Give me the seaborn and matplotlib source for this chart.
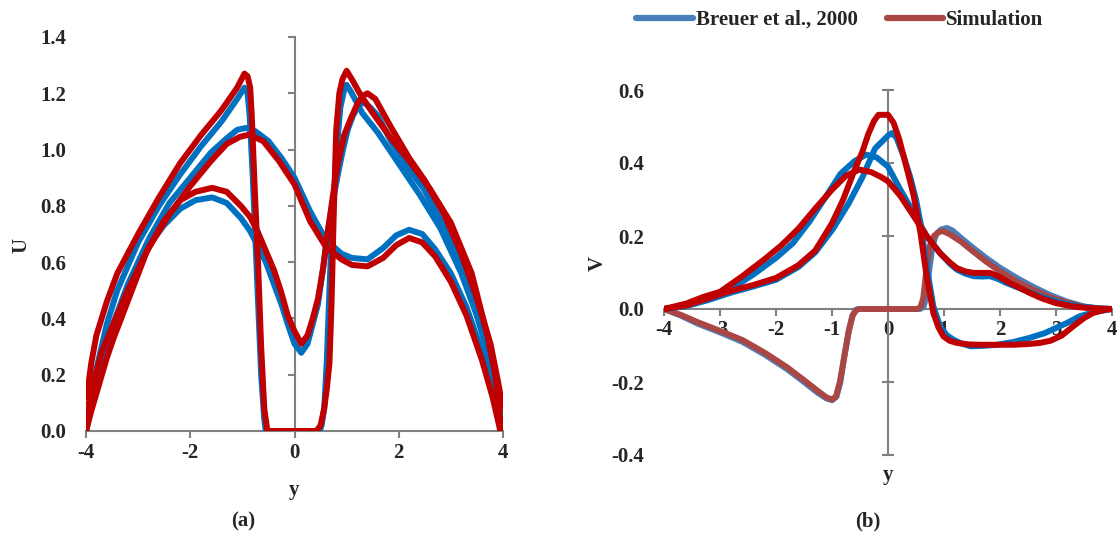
import matplotlib
matplotlib.use("Agg")
import matplotlib.pyplot as plt
import seaborn as sns
import pandas as pd
from matplotlib.ticker import FormatStrFormatter
from matplotlib.lines import Line2D

# ---------------- data: panel (a)  U vs y ----------------
a_y_A_breuer = [-4.0, -3.9, -3.8, -3.6, -3.4, -3.0, -2.6, -2.2, -1.8, -1.4, -1.1, -0.96, -0.9, -0.86, -0.8, -0.72,
                -0.64, -0.58, -0.55, 0.48, 0.52, 0.57, 0.62, 0.67, 0.72, 0.8, 0.88, 0.95, 1.0, 1.1, 1.3, 1.6, 2.0,
                2.4, 2.8, 3.2, 3.5, 3.75, 3.9, 4.0]
a_U_A_breuer = [0, 0.12, 0.22, 0.38, 0.5, 0.67, 0.8, 0.91, 1.01, 1.1, 1.18, 1.22, 1.2, 1.12, 0.9, 0.55,
                0.2, 0.04, 0, 0, 0.02, 0.08, 0.25, 0.5, 0.72, 0.98, 1.15, 1.21, 1.23, 1.2, 1.13, 1.06, 0.95,
                0.84, 0.72, 0.56, 0.41, 0.25, 0.12, 0]

a_y_A_sim = [-4.0, -3.95, -3.9, -3.8, -3.6, -3.4, -3.0, -2.6, -2.2, -1.8, -1.4, -1.1, -0.96, -0.9, -0.85, -0.82,
             -0.76, -0.7, -0.64, -0.58, -0.52, 0.42, 0.5, 0.57, 0.62, 0.67, 0.71, 0.75, 0.8, 0.86, 0.92, 1.0, 1.1,
             1.25, 1.5, 1.85, 2.2, 2.6, 3.0, 3.4, 3.7, 3.85, 3.97]
a_U_A_sim = [0.12, 0.17, 0.24, 0.34, 0.46, 0.56, 0.7, 0.83, 0.95, 1.05, 1.14, 1.22, 1.27, 1.26, 1.22, 1.12,
             0.85, 0.6, 0.3, 0.08, 0, 0, 0.02, 0.08, 0.15, 0.24, 0.45, 0.75, 1.07, 1.2, 1.25, 1.28, 1.25,
             1.2, 1.13, 1.04, 0.96, 0.86, 0.74, 0.56, 0.34, 0.2, 0]

a_y_B_breuer = [-4.0, -3.85, -3.7, -3.5, -3.2, -2.8, -2.4, -2.0, -1.6, -1.3, -1.1, -0.93, -0.75, -0.5, -0.25, 0.0,
                0.3, 0.6, 0.9, 1.1, 1.4, 1.7, 1.95, 2.2, 2.45, 2.7, 3.0, 3.3, 3.6, 3.8, 4.0]
a_U_B_breuer = [0, 0.13, 0.25, 0.37, 0.52, 0.68, 0.81, 0.9, 0.99, 1.04, 1.07, 1.077, 1.065, 1.03, 0.97, 0.9,
                0.78, 0.68, 0.63, 0.615, 0.61, 0.65, 0.695, 0.715, 0.70, 0.645, 0.56, 0.44, 0.28, 0.16, 0]

a_y_B_sim = [-4.0, -3.9, -3.7, -3.5, -3.2, -2.8, -2.4, -2.0, -1.6, -1.3, -1.05, -0.87, -0.6, -0.3, 0.0, 0.3,
             0.6, 0.9, 1.1, 1.4, 1.7, 1.95, 2.2, 2.45, 2.7, 3.0, 3.3, 3.6, 3.8, 3.95]
a_U_B_sim = [0.05, 0.14, 0.28, 0.37, 0.5, 0.65, 0.77, 0.87, 0.96, 1.02, 1.045, 1.053, 1.03, 0.96, 0.876, 0.745,
             0.655, 0.61, 0.59, 0.585, 0.615, 0.66, 0.686, 0.67, 0.62, 0.53, 0.41, 0.25, 0.12, 0]

a_y_C_breuer = [-4.0, -3.9, -3.79, -3.6, -3.47, -3.15, -2.83, -2.51, -2.19, -1.9, -1.58, -1.3, -1.03, -0.85, -0.71,
                -0.55, -0.39, -0.25, -0.13, 0.0, 0.13, 0.25, 0.35, 0.45, 0.55, 0.64, 0.75, 0.83, 0.93, 1.02, 1.12,
                1.21, 1.31, 1.45, 1.6, 1.85, 2.2, 2.48, 2.8, 3.12, 3.45, 3.76, 3.9, 4.0]
a_U_C_breuer = [0, 0.08, 0.18, 0.3, 0.38, 0.52, 0.65, 0.73, 0.79, 0.82, 0.83, 0.81, 0.757, 0.71, 0.66,
                0.6, 0.52, 0.45, 0.38, 0.31, 0.278, 0.31, 0.38, 0.45, 0.58, 0.71, 0.83, 0.91, 1.0, 1.07, 1.12,
                1.15, 1.17, 1.15, 1.12, 1.03, 0.93, 0.86, 0.75, 0.62, 0.44, 0.26, 0.14, 0]

a_y_C_sim = [-4.0, -3.9, -3.79, -3.6, -3.47, -3.15, -2.83, -2.51, -2.19, -1.9, -1.58, -1.3, -1.03, -0.85, -0.71,
             -0.55, -0.39, -0.25, -0.13, 0.0, 0.13, 0.25, 0.35, 0.45, 0.55, 0.64, 0.74, 0.83, 0.95, 1.08, 1.2,
             1.3, 1.4, 1.55, 1.85, 2.2, 2.5, 2.87, 3.2, 3.5, 3.76, 3.9, 4.0]
a_U_C_sim = [0, 0.07, 0.14, 0.26, 0.33, 0.485, 0.64, 0.745, 0.82, 0.85, 0.864, 0.85, 0.80, 0.76, 0.71,
             0.64, 0.57, 0.49, 0.41, 0.355, 0.31, 0.34, 0.4, 0.47, 0.58, 0.71, 0.84, 0.95, 1.05, 1.11, 1.16,
             1.19, 1.2, 1.18, 1.08, 0.97, 0.89, 0.77, 0.63, 0.47, 0.31, 0.18, 0.08]

# ---------------- data: panel (b)  V vs y ----------------
b_y_P_breuer = [-4.0, -3.6, -3.2, -2.8, -2.4, -2.0, -1.6, -1.3, -0.98, -0.7, -0.46, -0.23, 0.0, 0.07, 0.15, 0.28,
                0.4, 0.5, 0.58, 0.69, 0.81, 0.93, 1.05, 1.17, 1.3, 1.47, 1.7, 1.94, 2.25, 2.53, 2.8, 3.0, 3.2,
                3.42, 3.7, 4.0]
b_V_P_breuer = [0, 0.008, 0.025, 0.045, 0.062, 0.08, 0.115, 0.155, 0.22, 0.29, 0.36, 0.44, 0.475, 0.482, 0.47,
                0.418, 0.36, 0.3, 0.236, 0.117, 0.007, -0.047, -0.072, -0.084, -0.094, -0.102, -0.101, -0.098,
                -0.09, -0.079, -0.066, -0.052, -0.038, -0.02, -0.008, 0]

b_y_P_sim = [-4.0, -3.6, -3.2, -2.8, -2.4, -2.0, -1.6, -1.3, -1.0, -0.8, -0.6, -0.46, -0.35, -0.25, -0.17, -0.1,
             0.0, 0.1, 0.2, 0.28, 0.37, 0.46, 0.58, 0.69, 0.81, 0.9, 0.99, 1.1, 1.23, 1.45, 1.64, 2.0, 2.24, 2.5,
             2.71, 2.9, 3.1, 3.31, 3.5, 3.66, 3.85, 4.0]
b_V_P_sim = [0, 0.01, 0.03, 0.05, 0.066, 0.085, 0.12, 0.16, 0.235, 0.3, 0.38, 0.43, 0.48, 0.515, 0.532, 0.532,
             0.532, 0.51, 0.465, 0.418, 0.365, 0.309, 0.208, 0.09, -0.011, -0.05, -0.075, -0.087, -0.093, -0.097,
             -0.098, -0.098, -0.098, -0.096, -0.093, -0.087, -0.073, -0.047, -0.025, -0.011, -0.003, 0]

b_y_Q_breuer = [-4.0, -3.6, -3.2, -2.8, -2.4, -2.0, -1.7, -1.4, -1.1, -0.85, -0.6, -0.39, -0.2, 0.0, 0.22, 0.46,
                0.69, 0.93, 1.1, 1.23, 1.38, 1.53, 1.68, 1.82, 1.97, 2.12, 2.35, 2.53, 2.75, 3.0, 3.2, 3.42, 3.7,
                4.0]
b_V_Q_breuer = [0, 0.01, 0.028, 0.055, 0.095, 0.14, 0.18, 0.24, 0.31, 0.37, 0.405, 0.423, 0.415, 0.39, 0.327,
                0.263, 0.2, 0.153, 0.125, 0.108, 0.097, 0.09, 0.089, 0.09, 0.082, 0.071, 0.057, 0.046, 0.033,
                0.021, 0.013, 0.007, 0.003, 0]

b_y_Q_sim = [-4.0, -3.6, -3.3, -3.0, -2.6, -2.2, -1.9, -1.6, -1.3, -1.0, -0.75, -0.51, -0.3, -0.14, 0.0, 0.22,
             0.46, 0.69, 0.93, 1.1, 1.23, 1.38, 1.53, 1.68, 1.82, 1.97, 2.12, 2.35, 2.53, 2.75, 3.0, 3.3, 3.54,
             3.8, 4.0]
b_V_Q_sim = [0, 0.015, 0.033, 0.047, 0.09, 0.137, 0.175, 0.22, 0.275, 0.327, 0.365, 0.382, 0.375, 0.363, 0.35,
             0.31, 0.254, 0.2, 0.153, 0.128, 0.112, 0.103, 0.099, 0.099, 0.099, 0.09, 0.076, 0.058, 0.044, 0.029,
             0.016, 0.007, 0.003, 0.001, 0]

b_y_R_breuer = [-4.0, -3.7, -3.4, -3.0, -2.6, -2.2, -1.8, -1.5, -1.25, -1.1, -1.0, -0.92, -0.85, -0.78, -0.7,
                -0.64, -0.58, -0.52, 0.57, 0.63, 0.68, 0.73, 0.79, 0.86, 0.95, 1.05, 1.15, 1.3, 1.5, 1.75, 2.0,
                2.3, 2.6, 2.9, 3.2, 3.5, 3.8]
b_V_R_breuer = [0, -0.018, -0.04, -0.064, -0.09, -0.125, -0.165, -0.2, -0.23, -0.245, -0.25, -0.24, -0.2,
                -0.13, -0.06, -0.02, -0.003, 0, 0, 0.005, 0.03, 0.1, 0.17, 0.205, 0.218, 0.222, 0.215, 0.195,
                0.17, 0.14, 0.113, 0.085, 0.06, 0.038, 0.02, 0.007, 0]

b_y_R_sim = [-4.0, -3.7, -3.4, -3.0, -2.6, -2.2, -1.8, -1.5, -1.25, -1.1, -1.0, -0.93, -0.86, -0.78, -0.7,
             -0.63, -0.57, -0.52, 0.52, 0.58, 0.63, 0.68, 0.74, 0.82, 0.92, 0.99, 1.1, 1.3, 1.5, 1.75, 2.0,
             2.3, 2.6, 2.9, 3.2, 3.5, 3.8]
b_V_R_sim = [0, -0.016, -0.036, -0.06, -0.085, -0.12, -0.16, -0.195, -0.225, -0.242, -0.248, -0.24, -0.2,
             -0.13, -0.06, -0.018, -0.003, 0, 0, 0.005, 0.03, 0.1, 0.17, 0.2, 0.212, 0.213, 0.205, 0.185, 0.16,
             0.13, 0.103, 0.075, 0.052, 0.032, 0.017, 0.006, 0]

legend_labels = ["Breuer et al., 2000", "Simulation"]
a_xticks = [-4, -2, 0, 2, 4]
a_yticks = [0.0, 0.2, 0.4, 0.6, 0.8, 1.0, 1.2, 1.4]
b_xticks = [-4, -3, -2, -1, 0, 1, 2, 3, 4]
b_yticks = [-0.4, -0.2, 0.0, 0.2, 0.4, 0.6]

# ---------------- style ----------------
BLUE = "#0070C0"
RED = "#C00000"
BLUE_L = "#4A7EBB"
RED_L = "#AA4643"
GRAY = "#808080"
LW = 4.3

sns.set_style("white")
plt.rcParams["font.family"] = ["Liberation Serif", "DejaVu Serif"]
plt.rcParams["font.weight"] = "bold"
plt.rcParams["axes.unicode_minus"] = False
FS = 15

fig = plt.figure(figsize=(11.17, 5.34), dpi=100)
W, H = 1117, 534
axA = fig.add_axes([86 / W, 103 / H, 417 / W, 394 / H])
axB = fig.add_axes([664 / W, 79 / H, 448 / W, 365 / H])


def draw(ax, xs, ys, color, z):
    df = pd.DataFrame({"y": xs, "v": ys})
    sns.lineplot(data=df, x="y", y="v", sort=False, estimator=None, color=color, lw=LW, ax=ax,
                 solid_joinstyle="round", solid_capstyle="round", zorder=z)


# panel (a)
for xs, ys, c, z in [
    (a_y_A_breuer, a_U_A_breuer, BLUE, 3), (a_y_B_breuer, a_U_B_breuer, BLUE, 3), (a_y_C_breuer, a_U_C_breuer, BLUE, 3),
    (a_y_A_sim, a_U_A_sim, RED, 4), (a_y_B_sim, a_U_B_sim, RED, 4), (a_y_C_sim, a_U_C_sim, RED, 4),
]:
    draw(axA, xs, ys, c, z)

# panel (b)
for xs, ys, c, z in [
    (b_y_R_breuer, b_V_R_breuer, BLUE_L, 2), (b_y_R_sim, b_V_R_sim, RED_L, 2.2),
    (b_y_Q_breuer, b_V_Q_breuer, BLUE, 3), (b_y_P_breuer, b_V_P_breuer, BLUE, 3),
    (b_y_Q_sim, b_V_Q_sim, RED, 4), (b_y_P_sim, b_V_P_sim, RED, 4),
]:
    draw(axB, xs, ys, c, z)

for ax in (axA, axB):
    ax.set_xlim(-4, 4)
    ax.spines["top"].set_visible(False)
    ax.spines["left"].set_visible(False)
    ax.spines["right"].set_position(("data", 0))
    for s in ("right", "bottom"):
        ax.spines[s].set_color(GRAY)
        ax.spines[s].set_linewidth(1.5)
        ax.spines[s].set_zorder(1)
    ax.set_facecolor("none")

axA.set_ylim(0, 1.4)
axA.set_xticks(a_xticks)
axA.set_yticks(a_yticks)
axA.yaxis.set_major_formatter(FormatStrFormatter("%.1f"))
axA.tick_params(axis="y", left=False, right=True, labelleft=True, labelright=False, direction="in",
                length=5, width=1.5, color=GRAY, pad=14, labelsize=FS)
axA.tick_params(axis="x", bottom=True, direction="out", length=5, width=1.5, color=GRAY, pad=4, labelsize=FS)
axA.set_xlabel("y", fontsize=FS, fontweight="bold")
axA.set_ylabel("U", fontsize=FS, fontweight="bold")
axA.xaxis.set_label_coords(0.5, -0.125)
axA.yaxis.set_label_coords(-0.132, 0.472)

axB.set_ylim(-0.4, 0.6)
axB.spines["bottom"].set_position(("data", 0))
axB.set_xticks(b_xticks)
axB.set_yticks(b_yticks)
axB.yaxis.set_major_formatter(FormatStrFormatter("%.1f"))
axB.tick_params(axis="y", left=False, right=True, labelleft=True, labelright=False, direction="inout",
                length=9, width=1.5, color=GRAY, pad=10, labelsize=FS)
axB.tick_params(axis="x", bottom=True, direction="out", length=5, width=1.5, color=GRAY, pad=3, labelsize=FS)
axB.set_xlabel("y", fontsize=FS, fontweight="bold")
axB.set_ylabel("V", fontsize=FS, fontweight="bold")
axB.xaxis.set_label_coords(0.5, -0.028)
axB.yaxis.set_label_coords(-0.125, 0.526)

for ax in (axA, axB):
    for lab in ax.get_xticklabels() + ax.get_yticklabels():
        lab.set_fontweight("bold")

fig.text(243 / W, 1 - 521 / H, "(a)", ha="center", va="center", fontsize=FS, fontweight="bold")
fig.text(868 / W, 1 - 521 / H, "(b)", ha="center", va="center", fontsize=FS, fontweight="bold")

handles = [Line2D([], [], color=BLUE_L, lw=4.5, solid_capstyle="round"),
           Line2D([], [], color=RED_L, lw=4.5, solid_capstyle="round")]
fig.legend(handles, legend_labels, loc="center", bbox_to_anchor=((624 + 1056) / 2 / W, 1 - 20 / H), ncol=2,
           frameon=False, prop={"size": FS, "weight": "bold"}, handlelength=2.7, handletextpad=0.15,
           columnspacing=1.4, borderpad=0, borderaxespad=0)

fig.savefig("out.png", dpi=100)
